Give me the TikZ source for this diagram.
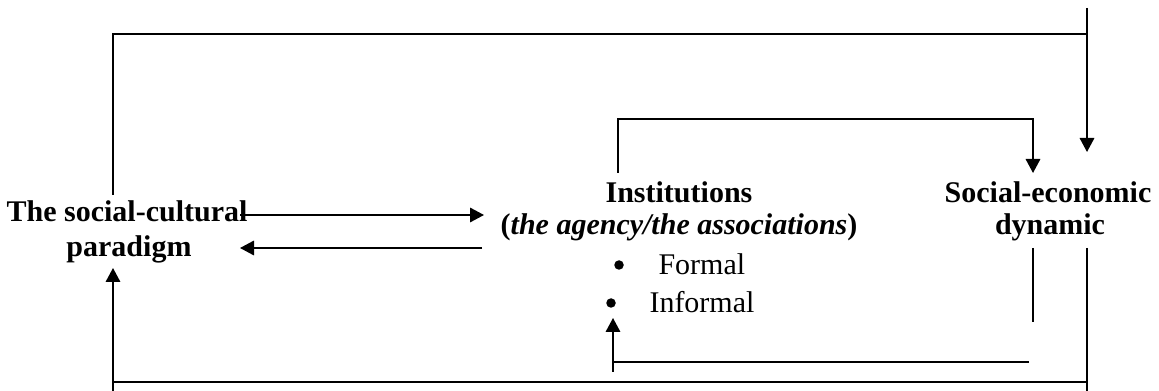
\documentclass[tikz,border=0pt]{standalone}
\usepackage{fontspec}
\setmainfont{Liberation Serif}
\usetikzlibrary{arrows.meta}
\begin{document}
\begin{tikzpicture}[x=0.4pt,y=-0.4pt,
  conn/.style={line width=0.7pt},
  arr/.style={line width=0.7pt,-{Triangle[length=5.6pt,width=5.8pt]}},
  lbl/.style={anchor=base,inner sep=0pt,font=\fontsize{12}{14}\selectfont\bfseries},
  plain/.style={anchor=base west,inner sep=0pt,font=\fontsize{12}{14}\selectfont},
  bul/.style={circle,fill,inner sep=0pt,minimum size=3.8pt}]
\useasboundingbox (0,0) rectangle (1159,391);
% text nodes
\node[lbl] (sc1) at (127,222) {The social-cultural};
\node[lbl] (sc2) at (129,257) {paradigm};
\node[lbl] (inst1) at (679,203) {Institutions};
\node[lbl] (inst2) at (679,235) {(\textit{the agency/the associations})};
\node[bul] (b1) at (619,265) {};
\node[plain] (f1) at (658,275) {Formal};
\node[bul] (b2) at (611,303) {};
\node[plain] (f2) at (649,313) {Informal};
\node[lbl] (se1) at (1048,203) {Social-economic};
\node[lbl] (se2) at (1050,235) {dynamic};
% waypoints
\coordinate (oTop) at (1087,8);
\coordinate (oTip) at (1087,152);
\coordinate (oTR) at (1087,34);
\coordinate (oLs) at (113,195);
\coordinate (iLs) at (618,173);
\coordinate (iTR) at (1033,119);
\coordinate (iTip) at (1033,173);
\coordinate (rA1) at (240,215);
\coordinate (rA2) at (484,215);
\coordinate (lA1) at (482,248);
\coordinate (lA2) at (240,248);
\coordinate (sv1) at (1033,248);
\coordinate (sv2) at (1033,322);
\coordinate (ih1) at (1029,362);
\coordinate (ih2) at (613,362);
\coordinate (iu1) at (613,372);
\coordinate (iu2) at (613,318);
\coordinate (ov1) at (1087,248);
\coordinate (ov2) at (1087,391);
\coordinate (ob1) at (1087,382);
\coordinate (ob2) at (113,382);
\coordinate (ou1) at (113,391);
\coordinate (ou2) at (113,268);
% connectors
\draw[arr] (oTop) -- (oTip);
\draw[conn] (oLs) |- (oTR);
\draw[arr] (iLs) |- (iTR) -- (iTip);
\draw[arr] (rA1) -- (rA2);
\draw[arr] (lA1) -- (lA2);
\draw[conn] (sv1) -- (sv2);
\draw[conn] (ih1) -- (ih2);
\draw[arr] (iu1) -- (iu2);
\draw[conn] (ov1) -- (ov2);
\draw[conn] (ob1) -- (ob2);
\draw[arr] (ou1) -- (ou2);
\end{tikzpicture}
\end{document}
